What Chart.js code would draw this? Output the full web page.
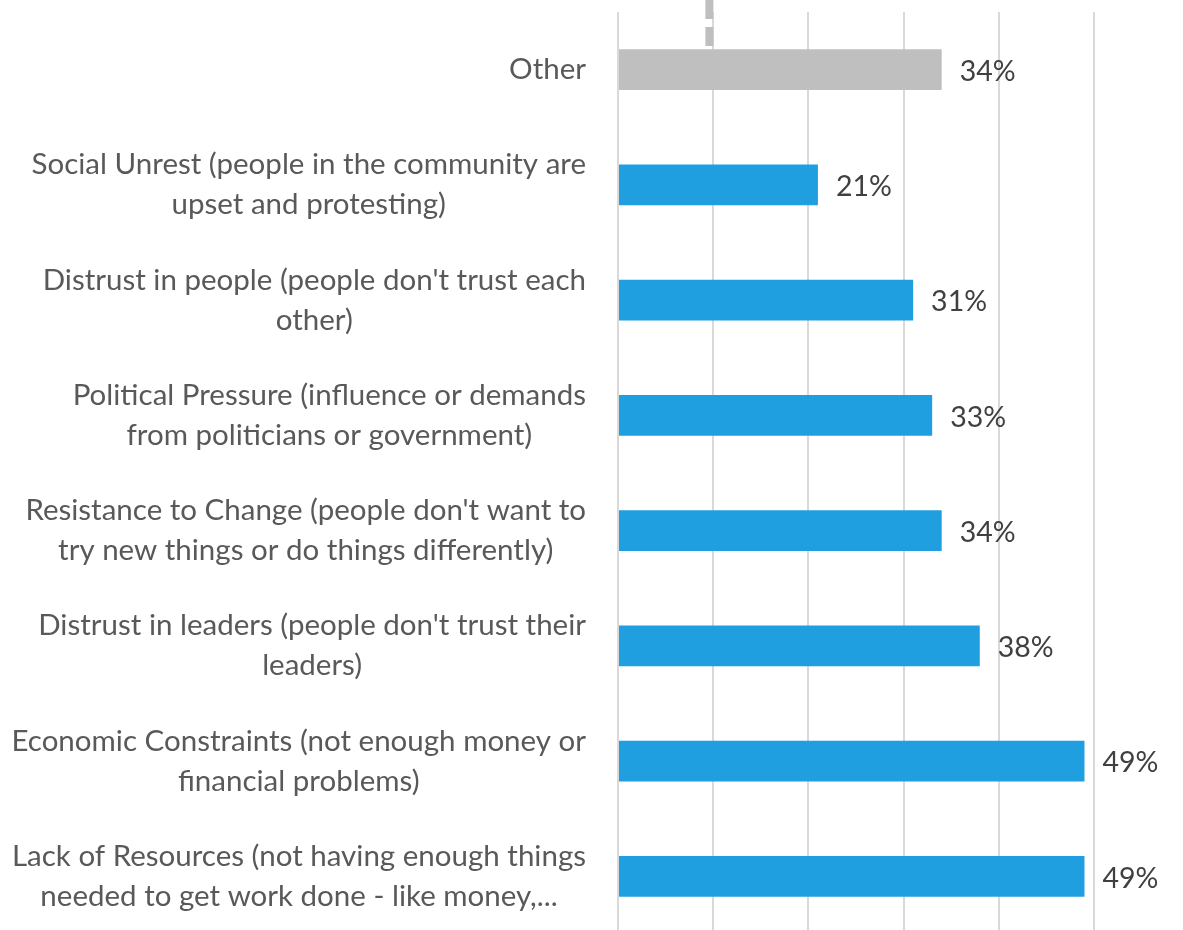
<!DOCTYPE html>
<html>
<head>
<meta charset="utf-8">
<script src="https://cdn.jsdelivr.net/npm/chart.js@4.4.1/dist/chart.umd.min.js"></script>
<style>
  html, body { margin: 0; padding: 0; background: #fff; overflow: hidden; }
  #wrap { width: 1183px; height: 936px; position: relative; }
</style>
</head>
<body>
<div id="wrap"><canvas id="grafico"></canvas></div>
<script>
// categorias e valores (%)
const categorias = [
    ['Other'],
    ['Social Unrest (people in the community are', 'upset and protesting)'],
    ["Distrust in people (people don't trust each", 'other)'],
    ['Political Pressure (influence or demands', 'from politicians or government)'],
    ["Resistance to Change (people don't want to", 'try new things or do things differently)'],
    ["Distrust in leaders (people don't trust their", 'leaders)'],
    ['Economic Constraints (not enough money or', 'financial problems)'],
    ['Lack of Resources (not having enough things', 'needed to get work done - like money,...']
];
const valores = [34, 21, 31, 33, 34, 38, 49, 49];
const cores = ['#bfbfbf', '#1f9fdf', '#1f9fdf', '#1f9fdf', '#1f9fdf', '#1f9fdf', '#1f9fdf', '#1f9fdf'];
const ticksX = [0, 10, 20, 30, 40, 50];
// linha tracejada cortada no topo (valor no eixo x)
const linhaTopo = 9.6;

const FONTE = 'Lato, "Open Sans", sans-serif';
const LARGURA_EIXO = 618;
const ESPACO_ROTULO = 32;
const ALTURA_LINHA = 40;

// rótulos das categorias: bloco alinhado à direita, linhas centralizadas entre si
const categoriasPlugin = {
    id: 'categorias',
    afterDraw(chart) {
        const ctx = chart.ctx;
        const escala = chart.scales.y;
        const direita = chart.chartArea.left - ESPACO_ROTULO;
        ctx.save();
        ctx.font = '29.5px ' + FONTE;
        ctx.fillStyle = '#595959';
        ctx.textAlign = 'center';
        ctx.textBaseline = 'middle';
        chart.data.labels.forEach((linhas, i) => {
            const y = escala.getPixelForTick(i);
            const larg = Math.max(...linhas.map(l => ctx.measureText(l).width));
            const cx = direita - larg / 2;
            linhas.forEach((l, j) => {
                ctx.fillText(l, cx, y + (j - (linhas.length - 1) / 2) * ALTURA_LINHA);
            });
        });
        ctx.restore();
    }
};

// rótulos de valor à direita de cada barra
const rotulosPlugin = {
    id: 'rotulos',
    afterDatasetsDraw(chart) {
        const ctx = chart.ctx;
        const meta = chart.getDatasetMeta(0);
        ctx.save();
        ctx.font = '28.5px ' + FONTE;
        ctx.fillStyle = '#404040';
        ctx.textAlign = 'left';
        ctx.textBaseline = 'middle';
        meta.data.forEach((bar, i) => {
            ctx.fillText(valores[i] + '%', bar.x + 18, bar.y + 2);
        });
        ctx.restore();
    }
};

// trecho tracejado acima da primeira barra
const tracejadoPlugin = {
    id: 'tracejado',
    afterDatasetsDraw(chart) {
        const ctx = chart.ctx;
        const x = chart.scales.x.getPixelForValue(linhaTopo);
        const primeira = chart.getDatasetMeta(0).data[0];
        const fim = primeira.y - primeira.height / 2;
        ctx.save();
        ctx.strokeStyle = '#bfbfbf';
        ctx.lineWidth = 8;
        ctx.setLineDash([19, 8]);
        ctx.beginPath();
        ctx.moveTo(x, 0);
        ctx.lineTo(x, fim);
        ctx.stroke();
        ctx.restore();
    }
};

const ctx = document.getElementById('grafico').getContext('2d');
new Chart(ctx, {
    type: 'bar',
    data: {
        labels: categorias,
        datasets: [{
            data: valores,
            backgroundColor: cores,
            categoryPercentage: 1,
            barPercentage: 0.355
        }]
    },
    options: {
        indexAxis: 'y',
        responsive: true,
        maintainAspectRatio: false,
        animation: false,
        layout: { padding: { top: 12, right: 89, left: 0, bottom: 2 } },
        plugins: {
            legend: { display: false },
            tooltip: { enabled: false }
        },
        scales: {
            x: {
                min: 0,
                max: 50,
                afterBuildTicks: s => { s.ticks = ticksX.map(v => ({ value: v })); },
                ticks: { display: false },
                grid: { color: '#d9d9d9', lineWidth: 2, drawTicks: false },
                border: { display: false }
            },
            y: {
                ticks: { display: false },
                grid: { display: false, drawTicks: false },
                border: { display: false },
                afterFit: s => {
                    s.width = LARGURA_EIXO;
                    s.paddingTop = 0;
                    s.paddingBottom = 0;
                }
            }
        }
    },
    plugins: [categoriasPlugin, rotulosPlugin, tracejadoPlugin]
});
</script>
</body>
</html>
